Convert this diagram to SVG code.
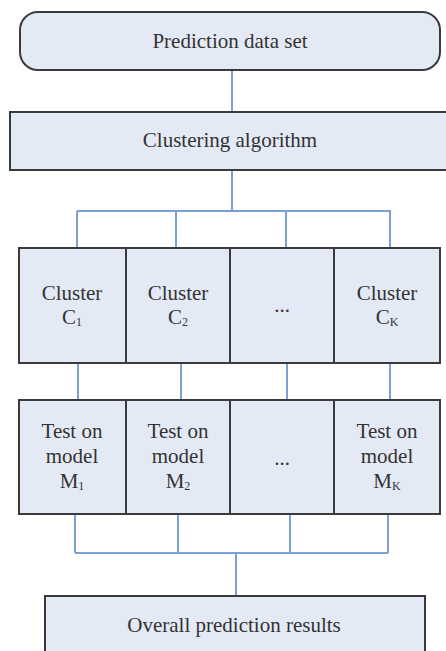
<svg xmlns="http://www.w3.org/2000/svg" width="446" height="651" viewBox="0 0 446 651">
<style>
.box{fill:#e4eaf5;stroke:#3a3a3a;stroke-width:2}
.con{fill:none;stroke:#7b9fd6;stroke-width:2}
text{font-family:"Liberation Serif","Times New Roman",serif;font-size:21px;fill:#333;text-anchor:middle}
.sub{font-size:12px}
</style>
<rect width="446" height="651" fill="#fff"/>
<g id="connectors">
<path class="con" d="M232 70V112"/>
<path class="con" d="M232 170V211M77 211H391M77 211V248M176 211V248M286 211V248M390 211V248"/>
<path class="con" d="M78 363V400M181 363V400M287 363V400M390 363V400"/>
<path class="con" d="M75 514V553M178 514V553M290 514V553M388 514V553M75 553H388M236 553V596"/>
</g>
<g id="prediction-data-set">
<rect class="box" x="20" y="12" width="420" height="58" rx="18"/>
<text x="230" y="48">Prediction data set</text>
</g>
<g id="clustering-algorithm">
<rect class="box" x="10" y="112" width="442" height="58"/>
<text x="230" y="147">Clustering algorithm</text>
</g>
<g id="cluster-1">
<rect class="box" x="19" y="248" width="107" height="115"/>
<text x="72" y="300">Cluster</text>
<text x="72" y="324">C<tspan class="sub" dy="2">1</tspan></text>
</g>
<g id="cluster-2">
<rect class="box" x="126" y="248" width="104" height="115"/>
<text x="178" y="300">Cluster</text>
<text x="178" y="324">C<tspan class="sub" dy="2">2</tspan></text>
</g>
<g id="cluster-dots">
<rect class="box" x="230" y="248" width="104" height="115"/>
<text x="282" y="312">...</text>
</g>
<g id="cluster-k">
<rect class="box" x="334" y="248" width="106" height="115"/>
<text x="387" y="300">Cluster</text>
<text x="387" y="324">C<tspan class="sub" dy="2">K</tspan></text>
</g>
<g id="test-1">
<rect class="box" x="19" y="400" width="107" height="114"/>
<text x="72" y="438">Test on</text>
<text x="72" y="463">model</text>
<text x="72" y="488">M<tspan class="sub" dy="2">1</tspan></text>
</g>
<g id="test-2">
<rect class="box" x="126" y="400" width="104" height="114"/>
<text x="178" y="438">Test on</text>
<text x="178" y="463">model</text>
<text x="178" y="488">M<tspan class="sub" dy="2">2</tspan></text>
</g>
<g id="test-dots">
<rect class="box" x="230" y="400" width="104" height="114"/>
<text x="282" y="465">...</text>
</g>
<g id="test-k">
<rect class="box" x="334" y="400" width="106" height="114"/>
<text x="387" y="438">Test on</text>
<text x="387" y="463">model</text>
<text x="387" y="488">M<tspan class="sub" dy="2">K</tspan></text>
</g>
<g id="overall-results">
<rect class="box" x="45" y="596" width="380" height="66"/>
<text x="234" y="632">Overall prediction results</text>
</g>
</svg>
